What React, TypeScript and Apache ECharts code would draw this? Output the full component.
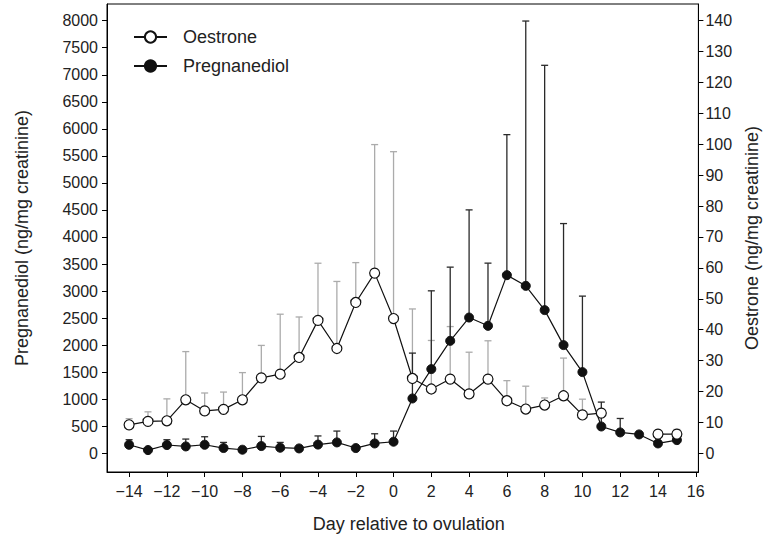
import React, { useEffect, useRef } from "react";
import * as echarts from "echarts";

const days = [-14, -13, -12, -11, -10, -9, -8, -7, -6, -5, -4, -3, -2, -1, 0, 1, 2, 3, 4, 5, 6, 7, 8, 9, 10, 11, 12, 13, 14, 15];
const oestrone = [9.2, 10.3, 10.5, 17.3, 13.7, 14.2, 17.3, 24.4, 25.6, 31.0, 43.0, 33.9, 48.8, 58.3, 43.6, 24.2, 20.8, 24.0, 19.2, 24.0, 17.0, 14.3, 15.6, 18.6, 12.4, 13.0, null, null, 6.2, 6.2];
const oestroneUpper = [11.2, 13.4, 17.6, 32.9, 19.5, 19.8, 26.1, 34.9, 45.0, 44.1, 61.5, 55.6, 61.7, 99.9, 97.6, 46.7, 36.5, 41.0, 32.7, 36.4, 23.5, 21.7, 17.9, 30.8, 17.5, null, null, null, null, 7.7];
const pregnanediol = [157, 59, 152, 126, 157, 96, 65, 133, 102, 89, 160, 200, 96, 181, 213, 1013, 1556, 2079, 2510, 2357, 3294, 3096, 2647, 2000, 1501, 495, 385, 348, 181, 243];
const pregnanediolUpper = [250, null, 250, 262, 305, 200, null, 311, 200, null, 320, 410, null, 360, 410, 1852, 3004, 3442, 4501, 3516, 5893, 7994, 7175, 4248, 2906, 946, 643, null, null, null];

const xTicks = [-14, -12, -10, -8, -6, -4, -2, 0, 2, 4, 6, 8, 10, 12, 14, 16];
const leftTicks = [0, 500, 1000, 1500, 2000, 2500, 3000, 3500, 4000, 4500, 5000, 5500, 6000, 6500, 7000, 7500, 8000];
const rightTicks = [0, 10, 20, 30, 40, 50, 60, 70, 80, 90, 100, 110, 120, 130, 140];

const FONT = "'Liberation Sans', Arial, sans-serif";
const TXT = "#222";

function errorData(vals: (number | null)[], ups: (number | null)[]) {
  const out: number[][] = [];
  days.forEach((d, i) => {
    const v = vals[i];
    const u = ups[i];
    if (v != null && u != null) out.push([d, v, u]);
  });
  return out;
}

function lineData(vals: (number | null)[]) {
  return days.map((d, i) => [d, vals[i] == null ? "-" : vals[i]]);
}

function makeRender(color: string) {
  return (params: any, api: any) => {
    const x = api.value(0);
    const y = api.value(1);
    const up = api.value(2);
    const p0 = api.coord([x, y]);
    const p1 = api.coord([x, up]);
    const style = { stroke: color, lineWidth: 1.3 };
    return {
      type: "group",
      children: [
        { type: "line", shape: { x1: p0[0], y1: p0[1], x2: p1[0], y2: p1[1] }, style },
        { type: "line", shape: { x1: p1[0] - 3.5, y1: p1[1], x2: p1[0] + 3.5, y2: p1[1] }, style },
      ],
    };
  };
}

export default function App() {
  const ref = useRef<HTMLDivElement>(null);
  useEffect(() => {
    if (!ref.current) return;
    const chart = echarts.init(ref.current, undefined, { renderer: "svg" });
    const axisLine = { show: true, lineStyle: { color: "#000", width: 1 } };
    const axisTick = { show: true, length: 5, lineStyle: { color: "#000", width: 1 } };
    const fmt = (v: number) => String(v);
    chart.setOption({
      animation: false,
      backgroundColor: "#fff",
      textStyle: { fontFamily: FONT },
      grid: {
        left: 107,
        right: 64,
        top: 4,
        bottom: 67,
        show: true,
        borderColor: "#000",
        borderWidth: 1,
        backgroundColor: "transparent",
      },
      legend: {
        data: ["Oestrone", "Pregnanediol"],
        orient: "vertical",
        left: 128,
        top: 23,
        itemWidth: 33,
        itemHeight: 14,
        itemGap: 11,
        textStyle: { fontSize: 18, color: TXT, fontFamily: FONT, lineHeight: 18, padding: [0, 0, 0, 11] },
      },
      xAxis: {
        type: "value",
        min: -15.17,
        max: 16.14,
        name: "Day relative to ovulation",
        nameLocation: "middle",
        nameGap: 43,
        nameTextStyle: { fontSize: 18, color: TXT, fontFamily: FONT, padding: [0, 0, 0, 12] },
        axisLine: { ...axisLine, onZero: false },
        axisTick: { ...axisTick, customValues: xTicks },
        axisLabel: {
          customValues: xTicks,
          fontSize: 16,
          color: TXT,
          margin: 11,
          fontFamily: FONT,
          formatter: (v: number) => (v < 0 ? "\u2212" + Math.abs(v) : String(v)),
        },
        splitLine: { show: false },
      },
      yAxis: [
        {
          type: "value",
          position: "left",
          min: -347,
          max: 8309,
          name: "Pregnanediol (ng/mg creatinine)",
          nameLocation: "middle",
          nameGap: 76,
          nameTextStyle: { fontSize: 18, color: TXT, fontFamily: FONT },
          axisLine: { ...axisLine, onZero: false },
          axisTick: { ...axisTick, customValues: leftTicks },
          axisLabel: { customValues: leftTicks, fontSize: 16, color: TXT, margin: 9, fontFamily: FONT, formatter: fmt },
          splitLine: { show: false },
        },
        {
          type: "value",
          position: "right",
          min: -6.07,
          max: 145.4,
          name: "Oestrone (ng/mg creatinine)",
          nameLocation: "middle",
          nameGap: 38,
          nameTextStyle: { fontSize: 18, color: TXT, fontFamily: FONT },
          axisLine: { ...axisLine, onZero: false },
          axisTick: { ...axisTick, customValues: rightTicks },
          axisLabel: { customValues: rightTicks, fontSize: 16, color: TXT, margin: 7, fontFamily: FONT, formatter: fmt },
          splitLine: { show: false },
        },
      ],
      series: [
        {
          name: "oestroneErr",
          type: "custom",
          xAxisIndex: 0,
          yAxisIndex: 1,
          renderItem: makeRender("#ababab"),
          data: errorData(oestrone, oestroneUpper),
          z: 1,
          silent: true,
        },
        {
          name: "pregErr",
          type: "custom",
          xAxisIndex: 0,
          yAxisIndex: 0,
          renderItem: makeRender("#2a2a2a"),
          data: errorData(pregnanediol, pregnanediolUpper),
          z: 1,
          silent: true,
        },
        {
          name: "Pregnanediol",
          type: "line",
          yAxisIndex: 0,
          data: lineData(pregnanediol),
          symbol: "circle",
          symbolSize: 9,
          showAllSymbol: true,
          connectNulls: false,
          lineStyle: { color: "#111", width: 1.2 },
          itemStyle: { color: "#111", borderColor: "#111", borderWidth: 1 },
          z: 3,
        },
        {
          name: "Oestrone",
          type: "line",
          yAxisIndex: 1,
          data: lineData(oestrone),
          symbol: "circle",
          symbolSize: 10,
          showAllSymbol: true,
          connectNulls: false,
          lineStyle: { color: "#111", width: 1.2 },
          itemStyle: { color: "#fff", borderColor: "#111", borderWidth: 1.2 },
          z: 4,
        },
      ],
    });
    return () => chart.dispose();
  }, []);
  return <div ref={ref} style={{ position: "absolute", left: 0, top: 0, width: 769, height: 539 }} />;
}
